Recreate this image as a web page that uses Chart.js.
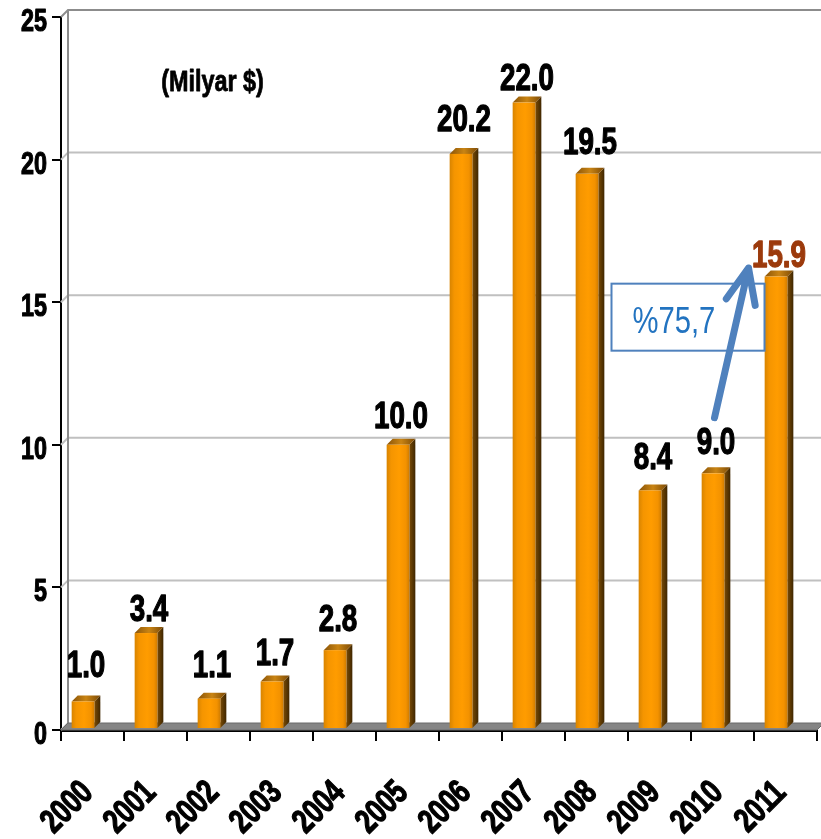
<!DOCTYPE html>
<html>
<head>
<meta charset="utf-8">
<script src="https://cdn.jsdelivr.net/npm/chart.js@4.4.1/dist/chart.umd.min.js"></script>
<style>
    html, body { margin: 0; padding: 0; background: #ffffff; }
    #wrap { width: 821px; height: 839px; }
</style>
</head>
<body>
<div id="wrap"><canvas id="invest-chart" width="821" height="839"></canvas></div>
<script>
// Data (Milyar $)
const years = ['2000', '2001', '2002', '2003', '2004', '2005', '2006', '2007', '2008', '2009', '2010', '2011'];
const investment = [1.0, 3.4, 1.1, 1.7, 2.8, 10.0, 20.2, 22.0, 19.5, 8.4, 9.0, 15.9];
const valueLabels = ['1.0', '3.4', '1.1', '1.7', '2.8', '10.0', '20.2', '22.0', '19.5', '8.4', '9.0', '15.9'];
const yTicks = [0, 5, 10, 15, 20, 25];
const unitNote = '(Milyar $)';
const growthNote = '%75,7';

// label styling (kept apart from the data)
const labelColors = ['#000', '#000', '#000', '#000', '#000', '#000', '#000', '#000', '#000', '#000', '#000', '#9c3a0c'];
const labelGap = [24, 12, 22, 17, 19, 17, 23, 13, 20, 21, 19, 10];

// no narrow font installed, so text is squeezed horizontally
const FONT = "'Liberation Sans', Arial, sans-serif";
const DEPTH = 7;      // back wall offset
const BAR_D = 6;      // bar depth
const BAR_SHIFT = -9.5;

const colors = {
    axis: '#000000',
    grid: '#c0c0c0',
    wall: '#8c8c8c',
    floor: '#858585',
    blue: '#4f81bd',
    blueText: '#2273c0'
};

function narrowText(ctx, text, x, y, opts) {
    ctx.save();
    ctx.translate(x, y);
    if (opts.rotate) ctx.rotate(opts.rotate);
    ctx.scale(opts.sx, 1);
    ctx.font = opts.font;
    ctx.fillStyle = opts.color || '#000';
    ctx.textAlign = opts.align || 'center';
    ctx.textBaseline = 'alphabetic';
    ctx.fillText(text, 0, opts.dy || 0);
    if (opts.heavy) {
        // thicken strokes a little, like Arial Narrow Bold
        ctx.strokeStyle = opts.color || '#000';
        ctx.lineWidth = opts.heavy;
        ctx.lineJoin = 'round';
        ctx.strokeText(text, 0, opts.dy || 0);
    }
    ctx.restore();
}

const wallPlugin = {
    id: 'wall3d',
    beforeDatasetsDraw(chart) {
        const { ctx, chartArea: a, scales: { y } } = chart;
        ctx.save();
        // grid lines on back wall + diagonals on side wall
        yTicks.forEach(v => {
            const py = y.getPixelForValue(v);
            ctx.strokeStyle = v === 25 ? colors.wall : colors.grid;
            ctx.lineWidth = 2;
            ctx.beginPath();
            ctx.moveTo(a.left, py);
            ctx.lineTo(a.left + DEPTH, py - DEPTH);
            if (v > 0) ctx.lineTo(chart.width, py - DEPTH);
            ctx.stroke();
        });
        // back wall left edge
        ctx.strokeStyle = colors.wall;
        ctx.beginPath();
        ctx.moveTo(a.left + DEPTH, y.getPixelForValue(25) - DEPTH);
        ctx.lineTo(a.left + DEPTH, a.bottom - DEPTH);
        ctx.stroke();
        // floor
        ctx.fillStyle = colors.floor;
        ctx.beginPath();
        ctx.moveTo(a.left, a.bottom);
        ctx.lineTo(a.left + DEPTH, a.bottom - DEPTH);
        ctx.lineTo(a.right + DEPTH, a.bottom - DEPTH);
        ctx.lineTo(a.right, a.bottom);
        ctx.closePath();
        ctx.fill();
        ctx.strokeStyle = '#6a6a6a';
        ctx.lineWidth = 1;
        ctx.stroke();
        ctx.restore();
    }
};

const bars3dPlugin = {
    id: 'bars3d',
    afterDatasetsDraw(chart) {
        const { ctx } = chart;
        const meta = chart.getDatasetMeta(0);
        ctx.save();
        meta.data.forEach((bar, i) => {
            const w = bar.width;
            const left = bar.x - w / 2 + BAR_SHIFT;
            const right = left + w;
            const top = bar.y;
            const base = bar.base - 1;

            // side face
            let g = ctx.createLinearGradient(right, 0, right + BAR_D, 0);
            g.addColorStop(0, '#7a4c06');
            g.addColorStop(1, '#3f2600');
            ctx.fillStyle = g;
            ctx.beginPath();
            ctx.moveTo(right, top);
            ctx.lineTo(right + BAR_D, top - BAR_D);
            ctx.lineTo(right + BAR_D, base - BAR_D);
            ctx.lineTo(right, base);
            ctx.closePath();
            ctx.fill();

            // top face
            g = ctx.createLinearGradient(left, 0, right + BAR_D, 0);
            g.addColorStop(0, '#8a5408');
            g.addColorStop(0.5, '#c98413');
            g.addColorStop(1, '#7c4a06');
            ctx.fillStyle = g;
            ctx.beginPath();
            ctx.moveTo(left, top);
            ctx.lineTo(left + BAR_D, top - BAR_D);
            ctx.lineTo(right + BAR_D, top - BAR_D);
            ctx.lineTo(right, top);
            ctx.closePath();
            ctx.fill();

            // front face
            g = ctx.createLinearGradient(left, 0, right, 0);
            g.addColorStop(0, '#d88400');
            g.addColorStop(0.2, '#f59500');
            g.addColorStop(0.55, '#ff9c00');
            g.addColorStop(0.85, '#f39200');
            g.addColorStop(1, '#d07c00');
            ctx.fillStyle = g;
            ctx.fillRect(left, top, w, base - top);

            // value label
            narrowText(ctx, valueLabels[i], left + w / 2 + 3, top - labelGap[i], {
                font: 'bold 37px ' + FONT, sx: 0.75, color: labelColors[i], heavy: 1.3
            });
        });
        ctx.restore();
    },
    afterDraw(chart) {
        const { ctx, chartArea: a, scales: { x, y } } = chart;
        ctx.save();

        // y tick labels
        yTicks.forEach(v => {
            narrowText(ctx, String(v), 47, y.getPixelForValue(v) + 14, {
                font: 'bold 32px ' + FONT, sx: 0.73, align: 'right', heavy: 1.2
            });
        });

        // x tick labels, rotated
        years.forEach((yr, i) => {
            narrowText(ctx, yr, x.getPixelForValue(i) - 15, a.bottom + 47, {
                font: 'bold 34px ' + FONT, sx: 0.76, align: 'right',
                rotate: -Math.PI / 4, dy: 24, heavy: 1.3
            });
        });

        // unit note
        narrowText(ctx, unitNote, x.getPixelForValue(1) + 57, y.getPixelForValue(22.4), {
            font: 'bold 30px ' + FONT, sx: 0.78, heavy: 0.8
        });

        // growth box
        const bx1 = x.getPixelForValue(9) - 48, bx2 = x.getPixelForValue(10) + 42;
        const by1 = y.getPixelForValue(15.65), by2 = y.getPixelForValue(13.3);
        ctx.fillStyle = '#fff';
        ctx.fillRect(bx1, by1, bx2 - bx1, by2 - by1);
        ctx.strokeStyle = colors.blue;
        ctx.lineWidth = 2;
        ctx.strokeRect(bx1, by1, bx2 - bx1, by2 - by1);
        narrowText(ctx, growthNote, bx1 + 21, (by1 + by2) / 2 + 16, {
            font: '37px ' + FONT, sx: 0.79, align: 'left', color: colors.blueText
        });

        // arrow
        const sx = x.getPixelForValue(10) - 8, sy = y.getPixelForValue(10.95);
        const tx = x.getPixelForValue(11) - 37, ty = y.getPixelForValue(16.2);
        const ang = Math.atan2(sy - ty, sx - tx);
        const headLen = 38, spread = 0.4;
        ctx.strokeStyle = colors.blue;
        ctx.lineWidth = 7;
        ctx.lineCap = 'round';
        ctx.lineJoin = 'round';
        ctx.beginPath();
        ctx.moveTo(sx, sy);
        ctx.lineTo(tx, ty);
        ctx.moveTo(tx + headLen * Math.cos(ang - spread), ty + headLen * Math.sin(ang - spread));
        ctx.lineTo(tx, ty);
        ctx.lineTo(tx + headLen * Math.cos(ang + spread), ty + headLen * Math.sin(ang + spread));
        ctx.stroke();
        ctx.restore();
    }
};

new Chart(document.getElementById('invest-chart'), {
    type: 'bar',
    data: {
        labels: years,
        datasets: [{
            data: investment,
            backgroundColor: 'rgba(0,0,0,0)',
            borderWidth: 0,
            barPercentage: 0.36,
            categoryPercentage: 1
        }]
    },
    options: {
        responsive: false,
        animation: false,
        devicePixelRatio: 1,
        layout: { padding: { top: 17, right: 4, left: 0, bottom: 0 } },
        plugins: {
            legend: { display: false },
            tooltip: { enabled: false }
        },
        scales: {
            x: {
                z: 1,
                grid: { drawOnChartArea: false, tickLength: 11, color: colors.axis, lineWidth: 2, offset: true },
                border: { color: colors.axis, width: 3 },
                ticks: { display: false },
                afterFit: (s) => { s.height = 109; }
            },
            y: {
                z: 1,
                min: 0,
                max: 25,
                afterBuildTicks: (s) => { s.ticks = yTicks.map(v => ({ value: v })); },
                grid: { drawOnChartArea: false, tickLength: 9, color: colors.axis, lineWidth: 2 },
                border: { color: colors.axis, width: 2 },
                ticks: { display: false },
                afterFit: (s) => { s.width = 61; }
            }
        }
    },
    plugins: [wallPlugin, bars3dPlugin]
});
</script>
</body>
</html>
